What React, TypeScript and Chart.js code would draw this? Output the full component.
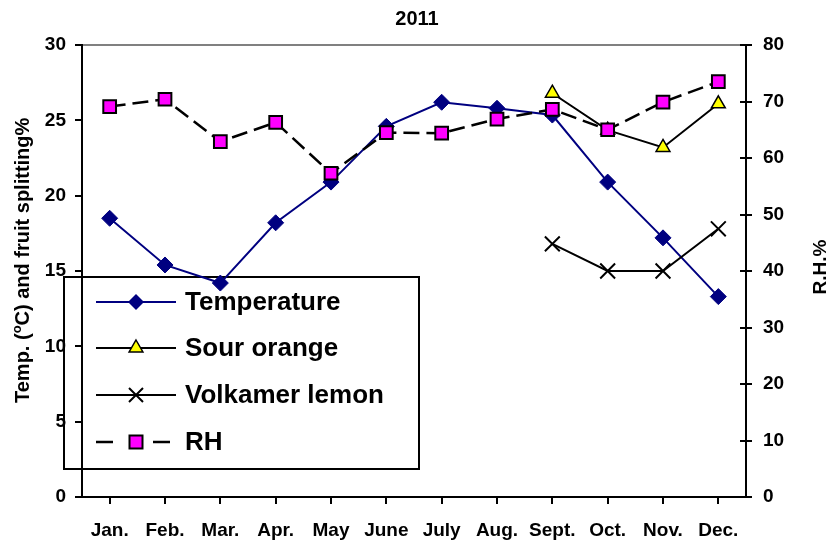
import React, { useEffect, useRef } from 'react';
import { Chart, registerables } from 'chart.js';

Chart.register(...registerables);

const months = ['Jan.', 'Feb.', 'Mar.', 'Apr.', 'May', 'June', 'July', 'Aug.', 'Sept.', 'Oct.', 'Nov.', 'Dec.'];
const temperature = [18.5, 15.4, 14.2, 18.2, 20.9, 24.6, 26.2, 25.8, 25.35, 20.9, 17.2, 13.3];
const sourOrange = [null, null, null, null, null, null, null, null, 26.8, 24.35, 23.2, 26.1];
const volkamerLemon = [null, null, null, null, null, null, null, null, 16.8, 15, 15, 17.8];
const relativeHumidity = [69.1, 70.4, 62.9, 66.3, 57.3, 64.5, 64.4, 66.9, 68.6, 65.0, 69.9, 73.5];

const leftAxis = { min: 0, max: 30, step: 5 };
const rightAxis = { min: 0, max: 80, step: 10 };

const chartTitle = '2011';
const leftTitleA = 'Temp. (';
const leftTitleSup = 'o';
const leftTitleB = 'C) and fruit splitting%';
const rightTitle = 'R.H.%';
const legendLabels = ['Temperature', 'Sour orange', 'Volkamer lemon', 'RH'];

const FONT = '"Liberation Sans", Arial, sans-serif';
const NAVY = '#000080';
const YELLOW = '#FFFF00';
const MAGENTA = '#FF00FF';

const decorPlugin = {
  id: 'decor',
  beforeDatasetsDraw(chart: any) {
    const { ctx, chartArea: a, scales } = chart;
    ctx.save();
    // gray top border
    ctx.strokeStyle = '#808080';
    ctx.lineWidth = 2;
    ctx.beginPath();
    ctx.moveTo(a.left + 1, a.top);
    ctx.lineTo(a.right - 1, a.top);
    ctx.stroke();
    // inner half of right axis ticks
    const y1 = scales.y1;
    ctx.strokeStyle = '#000';
    ctx.lineWidth = 2;
    y1.ticks.forEach((_t: any, i: number) => {
      const py = Math.round(y1.getPixelForTick(i));
      ctx.beginPath();
      ctx.moveTo(a.right - 6, py);
      ctx.lineTo(a.right, py);
      ctx.stroke();
    });

    // legend
    const bx = 64, by = 277, bw = 355, bh = 192;
    ctx.strokeStyle = '#000';
    ctx.lineWidth = 2;
    ctx.strokeRect(bx, by, bw, bh);
    const rows = [302, 348, 395, 442];
    const lx0 = 96, lx1 = 176, mx = 136;
    // Temperature
    let y = rows[0];
    ctx.strokeStyle = NAVY;
    ctx.lineWidth = 2;
    ctx.beginPath(); ctx.moveTo(lx0, y); ctx.lineTo(lx1, y); ctx.stroke();
    ctx.fillStyle = NAVY;
    ctx.beginPath();
    ctx.moveTo(mx, y - 8); ctx.lineTo(mx + 8, y); ctx.lineTo(mx, y + 8); ctx.lineTo(mx - 8, y); ctx.closePath();
    ctx.fill();
    // Sour orange
    y = rows[1];
    ctx.strokeStyle = '#000';
    ctx.beginPath(); ctx.moveTo(lx0, y); ctx.lineTo(lx1, y); ctx.stroke();
    ctx.fillStyle = YELLOW;
    ctx.lineWidth = 1.5;
    ctx.beginPath();
    ctx.moveTo(mx, y - 8); ctx.lineTo(mx + 6.9, y + 4); ctx.lineTo(mx - 6.9, y + 4); ctx.closePath();
    ctx.fill(); ctx.stroke();
    // Volkamer lemon
    y = rows[2];
    ctx.lineWidth = 2;
    ctx.beginPath(); ctx.moveTo(lx0, y); ctx.lineTo(lx1, y); ctx.stroke();
    ctx.beginPath();
    ctx.moveTo(mx - 7, y - 7); ctx.lineTo(mx + 7, y + 7);
    ctx.moveTo(mx + 7, y - 7); ctx.lineTo(mx - 7, y + 7);
    ctx.stroke();
    // RH
    y = rows[3];
    ctx.lineWidth = 2.5;
    ctx.beginPath(); ctx.moveTo(lx0, y); ctx.lineTo(lx0 + 17, y); ctx.moveTo(lx1 - 23, y); ctx.lineTo(lx1 - 6, y); ctx.stroke();
    ctx.fillStyle = MAGENTA;
    ctx.lineWidth = 2;
    ctx.fillRect(mx - 6.5, y - 6.5, 13, 13);
    ctx.strokeRect(mx - 6.5, y - 6.5, 13, 13);

    ctx.fillStyle = '#000';
    ctx.font = `bold 26px ${FONT}`;
    ctx.textAlign = 'left';
    ctx.textBaseline = 'middle';
    legendLabels.forEach((t, i) => ctx.fillText(t, 185, rows[i] + 1));
    ctx.restore();
  },
  afterDraw(chart: any) {
    const { ctx } = chart;
    ctx.save();
    ctx.fillStyle = '#000';
    // main title
    ctx.font = `bold 20px ${FONT}`;
    ctx.textAlign = 'center';
    ctx.textBaseline = 'middle';
    ctx.fillText(chartTitle, 417, 19);
    // left title
    ctx.save();
    ctx.translate(29, 403);
    ctx.rotate(-Math.PI / 2);
    ctx.textAlign = 'left';
    ctx.textBaseline = 'alphabetic';
    ctx.font = `bold 20px ${FONT}`;
    const wA = ctx.measureText(leftTitleA).width;
    ctx.fillText(leftTitleA, 0, 0);
    ctx.font = `bold 13px ${FONT}`;
    const wS = ctx.measureText(leftTitleSup).width;
    ctx.fillText(leftTitleSup, wA, -8);
    ctx.font = `bold 20px ${FONT}`;
    ctx.fillText(leftTitleB, wA + wS, 0);
    ctx.restore();
    // right title
    ctx.save();
    ctx.translate(826, 267);
    ctx.rotate(-Math.PI / 2);
    ctx.textAlign = 'center';
    ctx.textBaseline = 'alphabetic';
    ctx.font = `bold 19px ${FONT}`;
    ctx.fillText(rightTitle, 0, 0);
    ctx.restore();
    ctx.restore();
  },
};

export default function App() {
  const ref = useRef<HTMLCanvasElement>(null);
  useEffect(() => {
    const tickFont = { family: FONT, size: 19, weight: 'bold' as const };
    const chart = new Chart(ref.current as HTMLCanvasElement, {
      type: 'line',
      data: {
        labels: months,
        datasets: [
          {
            label: legendLabels[0],
            data: temperature,
            yAxisID: 'y',
            borderColor: NAVY,
            borderWidth: 2,
            pointStyle: 'rectRot',
            pointRadius: 8,
            pointBackgroundColor: NAVY,
            pointBorderColor: NAVY,
            pointBorderWidth: 1,
            order: 3,
          },
          {
            label: legendLabels[1],
            data: sourOrange,
            yAxisID: 'y',
            borderColor: '#000',
            borderWidth: 2,
            pointStyle: 'triangle',
            pointRadius: 8,
            pointBackgroundColor: YELLOW,
            pointBorderColor: '#000',
            pointBorderWidth: 1.5,
            order: 1,
          },
          {
            label: legendLabels[2],
            data: volkamerLemon,
            yAxisID: 'y',
            borderColor: '#000',
            borderWidth: 2,
            pointStyle: 'crossRot',
            pointRadius: 10.5,
            pointBackgroundColor: '#000',
            pointBorderColor: '#000',
            pointBorderWidth: 2,
            order: 2,
          },
          {
            label: legendLabels[3],
            data: relativeHumidity,
            yAxisID: 'y1',
            borderColor: '#000',
            borderWidth: 2.5,
            borderDash: [16, 7],
            pointStyle: 'rect',
            pointRadius: 9,
            pointBackgroundColor: MAGENTA,
            pointBorderColor: '#000',
            pointBorderWidth: 2,
            order: 0,
          },
        ],
      },
      options: {
        responsive: false,
        maintainAspectRatio: false,
        animation: false,
        devicePixelRatio: 1,
        layout: { padding: { top: 45, left: 0, right: 0, bottom: 0 } },
        plugins: {
          legend: { display: false },
          title: { display: false },
          tooltip: { enabled: false },
        },
        scales: {
          x: {
            type: 'category',
            offset: true,
            grid: { drawOnChartArea: false, drawTicks: true, tickLength: 7, color: '#000', lineWidth: 2 },
            border: { display: true, color: '#000', width: 2 },
            ticks: { color: '#000', font: tickFont, padding: 15, maxRotation: 0, autoSkip: false },
            afterFit: (s: any) => { s.height = 48; },
          },
          y: {
            position: 'left',
            min: leftAxis.min,
            max: leftAxis.max,
            grid: { drawOnChartArea: false, drawTicks: true, tickLength: 7, color: '#000', lineWidth: 2 },
            border: { display: true, color: '#000', width: 2 },
            ticks: { stepSize: leftAxis.step, color: '#000', font: tickFont, padding: 9 },
            afterFit: (s: any) => { s.width = 82; },
          },
          y1: {
            position: 'right',
            min: rightAxis.min,
            max: rightAxis.max,
            grid: { drawOnChartArea: false, drawTicks: true, tickLength: 6, color: '#000', lineWidth: 2 },
            border: { display: true, color: '#000', width: 2 },
            ticks: { stepSize: rightAxis.step, color: '#000', font: tickFont, padding: 11 },
            afterFit: (s: any) => { s.width = 82; },
          },
        },
      },
      plugins: [decorPlugin],
    });
    return () => chart.destroy();
  }, []);
  return (
    <div style={{ position: 'absolute', left: 0, top: 0, width: 828, height: 545, background: '#fff' }}>
      <canvas ref={ref} width={828} height={545} />
    </div>
  );
}
